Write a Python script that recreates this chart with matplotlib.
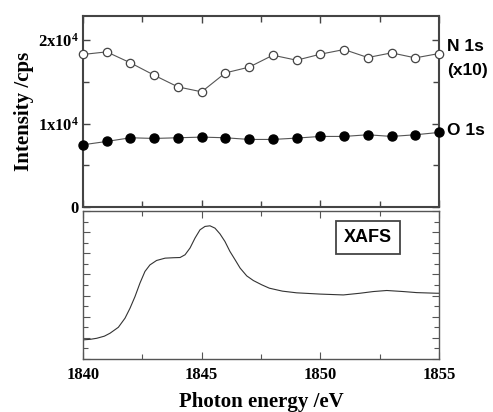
import matplotlib
matplotlib.use("Agg")
import matplotlib.pyplot as plt
from matplotlib.ticker import MultipleLocator, FixedLocator, FixedFormatter

plt.rcParams['mathtext.fontset'] = 'custom'
plt.rcParams['mathtext.rm'] = 'Liberation Serif:bold'
plt.rcParams['mathtext.it'] = 'Liberation Serif:bold'
plt.rcParams['mathtext.bf'] = 'Liberation Serif:bold'

# ---- data ----
energy_pts = [1840, 1841, 1842, 1843, 1844, 1845, 1846, 1847,
              1848, 1849, 1850, 1851, 1852, 1853, 1854, 1855]
n1s_x10 = [18290, 18600, 17280, 15800, 14400, 13810, 16080, 16770,
           18200, 17600, 18320, 18880, 17920, 18480, 17880, 18400]
o1s = [7460, 7860, 8300, 8220, 8300, 8380, 8300, 8100,
       8100, 8260, 8460, 8460, 8660, 8460, 8660, 8940]

xafs_e = [1839.95, 1840.30, 1840.58, 1840.90, 1841.14, 1841.49, 1841.77, 1841.98,
          1842.19, 1842.40, 1842.61, 1842.82, 1843.10, 1843.46, 1843.81, 1844.09,
          1844.30, 1844.51, 1844.72, 1844.93, 1845.14, 1845.35, 1845.56, 1845.77,
          1845.98, 1846.19, 1846.41, 1846.62, 1846.90, 1847.18, 1847.53, 1847.85,
          1848.40, 1849.00, 1849.99, 1850.97, 1851.67, 1852.23, 1852.80, 1853.50,
          1854.06, 1854.90, 1855.00]
xafs_i = [0.90, 0.93, 0.98, 1.08, 1.22, 1.50, 1.93, 2.40,
          2.95, 3.59, 4.14, 4.45, 4.66, 4.77, 4.79, 4.80,
          4.93, 5.25, 5.72, 6.11, 6.27, 6.30, 6.19, 5.92,
          5.56, 5.09, 4.69, 4.30, 3.93, 3.71, 3.51, 3.35,
          3.21, 3.13, 3.07, 3.03, 3.11, 3.19, 3.24, 3.19,
          3.14, 3.11, 3.11]

y_ticks = [0, 10000, 20000]
y_ticklabels = ['0', '1x10$^4$', '2x10$^4$']
x_ticks = [1840, 1845, 1850, 1855]
x_ticklabels = ['1840', '1845', '1850', '1855']

W, H = 493, 412
fig = plt.figure(figsize=(W / 100, H / 100), dpi=100)

L, R = 83 / W, 439 / W
ax1 = fig.add_axes([L, 1 - 207 / H, R - L, (207 - 16) / H])
ax2 = fig.add_axes([L, 1 - 359 / H, R - L, (359 - 211) / H])

spine_c = '#444444'
serif = 'Liberation Serif'
sans = 'Liberation Sans'

# top panel
ax1.plot(energy_pts, n1s_x10, '-', color='#555555', lw=0.8, marker='o',
         ms=6, mfc='white', mec='#444444', mew=0.9, clip_on=False, zorder=3)
ax1.plot(energy_pts, o1s, '-', color='#555555', lw=0.8, marker='o',
         ms=6.5, mfc='black', mec='black', clip_on=False, zorder=3)
ax1.set_xlim(1840, 1855)
ax1.set_ylim(0, 22900)
ax1.yaxis.set_major_locator(FixedLocator(y_ticks))
ax1.yaxis.set_major_formatter(FixedFormatter(y_ticklabels))
ax1.yaxis.set_minor_locator(MultipleLocator(5000))
ax1.xaxis.set_major_locator(MultipleLocator(5))
ax1.xaxis.set_minor_locator(MultipleLocator(2.5))
ax1.tick_params(axis='both', which='both', direction='in', top=True, right=True,
                color=spine_c, width=1)
ax1.tick_params(which='major', length=5)
ax1.tick_params(which='minor', length=4)
ax1.tick_params(axis='x', labelbottom=False)
for lab in ax1.get_yticklabels():
    lab.set_fontfamily(serif)
    lab.set_fontweight('bold')
    lab.set_fontsize(12)
ax1.tick_params(axis='y', pad=3)
for s in ax1.spines.values():
    s.set_color(spine_c)
    s.set_linewidth(1.5)
ax1.set_ylabel('Intensity /cps', fontfamily=serif, fontweight='bold', fontsize=15, labelpad=3)

ax1.text(1.022, 0.84, 'N 1s', transform=ax1.transAxes, fontfamily=sans,
         fontweight='bold', fontsize=12.5, ha='left', va='center')
ax1.text(1.022, 0.715, '(x10)', transform=ax1.transAxes, fontfamily=sans,
         fontweight='bold', fontsize=12.5, ha='left', va='center')
ax1.text(1.022, 0.40, 'O 1s', transform=ax1.transAxes, fontfamily=sans,
         fontweight='bold', fontsize=12.5, ha='left', va='center')

# bottom panel
ax2.plot(xafs_e, xafs_i, '-', color='#333333', lw=0.8)
ax2.set_xlim(1840, 1855)
ax2.set_ylim(0, 7)
ax2.xaxis.set_major_locator(FixedLocator(x_ticks))
ax2.xaxis.set_major_formatter(FixedFormatter(x_ticklabels))
ax2.xaxis.set_minor_locator(MultipleLocator(2.5))
ax2.yaxis.set_major_locator(MultipleLocator(1))
ax2.yaxis.set_minor_locator(MultipleLocator(0.5))
ax2.tick_params(axis='both', which='both', direction='in', top=True, right=True,
                color='#555555', width=0.8)
ax2.tick_params(which='major', length=5)
ax2.tick_params(which='minor', length=3.5)
ax2.tick_params(axis='y', labelleft=False)
ax2.tick_params(axis='x', pad=6)
for lab in ax2.get_xticklabels():
    lab.set_fontfamily(serif)
    lab.set_fontweight('bold')
    lab.set_fontsize(12)
for s in ax2.spines.values():
    s.set_color('#555555')
    s.set_linewidth(1.0)
ax2.set_xlabel('Photon energy /eV', fontfamily=serif, fontweight='bold', fontsize=15, labelpad=6)

ax2.text(0.80, 0.82, 'XAFS', transform=ax2.transAxes, fontfamily=sans,
         fontweight='bold', fontsize=13, ha='center', va='center',
         bbox=dict(boxstyle='square,pad=0.45', fc='white', ec='#444444', lw=1.3))

fig.savefig('out.png', dpi=100)
